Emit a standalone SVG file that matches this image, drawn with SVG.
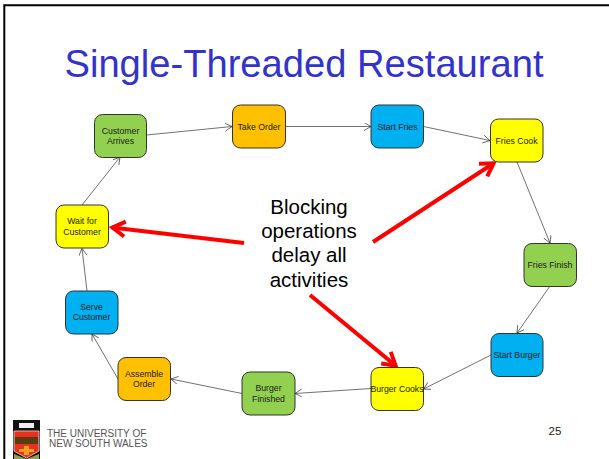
<svg xmlns="http://www.w3.org/2000/svg" width="609" height="459" viewBox="0 0 609 459">
<style>
text{font-family:"Liberation Sans",Arial,sans-serif;text-anchor:middle}
.n{stroke:#333;stroke-width:1}
.l{font-size:8.700px;fill:#1a1a1a}
.c{fill:none;stroke:#333;stroke-width:.7;marker-end:url(#a)}
.r{fill:none;stroke:#f00;stroke-width:4;marker-end:url(#ra)}
.b{font-size:20.500px;fill:#000}
.u{font-size:10px;fill:#555;text-anchor:start}
</style>
<defs>
<marker id="a" markerUnits="userSpaceOnUse" markerWidth="10" markerHeight="10" refX="7" refY="4" orient="auto"><path d="M0 0L7 4L0 8" fill="none" stroke="#333" stroke-width=".7"/></marker>
<marker id="ra" markerUnits="userSpaceOnUse" markerWidth="24" markerHeight="24" refX="16" refY="10" orient="auto"><path d="M3 2.500L15.500 10L3 17.500" fill="none" stroke="#f00" stroke-width="4"/></marker>
</defs>
<rect width="609" height="459" fill="#fff"/>
<path d="M4.300 459V5.300H609" fill="none" stroke="#000" stroke-width="2"/>
<text x="304" y="77" font-size="39" fill="#3333cc" textLength="479" lengthAdjust="spacingAndGlyphs">Single-Threaded Restaurant</text>
<g id="connectors">
<path class="c" d="M146.500 135L232 126.500"/>
<path class="c" d="M285.500 126.500H371"/>
<path class="c" d="M423.500 126.500L490 140.500"/>
<path class="c" d="M517 162L550 243"/>
<path class="c" d="M550 286L517 333"/>
<path class="c" d="M491 355L423.500 389"/>
<path class="c" d="M371 388.500L295 393.500"/>
<path class="c" d="M242 393.500L171 379"/>
<path class="c" d="M118 379L92 334"/>
<path class="c" d="M87 291L82 248.500"/>
<path class="c" d="M82 205L120 157"/>
<path class="r" d="M244 243L112 227.500"/>
<path class="r" d="M373 242L494 163"/>
<path class="r" d="M310 295L396 366"/>
</g>
<g id="customer-arrives"><rect class="n" x="94.500" y="114.500" width="52" height="43" rx="8" fill="#92d050"/><text class="l" x="120.500" y="134">Customer</text><text class="l" x="120.500" y="144">Arrives</text></g>
<g id="take-order"><rect class="n" x="232.500" y="105" width="53" height="43" rx="8" fill="#ffc000"/><text class="l" x="259" y="129.500">Take Order</text></g>
<g id="start-fries"><rect class="n" x="371" y="105" width="52.500" height="43" rx="8" fill="#00b0f0"/><text class="l" x="397.500" y="129.500">Start Fries</text></g>
<g id="fries-cook"><rect class="n" x="490.500" y="119" width="52.500" height="43" rx="8" fill="#ff0"/><text class="l" x="516.500" y="144">Fries Cook</text></g>
<g id="fries-finish"><rect class="n" x="524" y="243.500" width="52.500" height="43" rx="8" fill="#92d050"/><text class="l" x="550" y="268">Fries Finish</text></g>
<g id="start-burger"><rect class="n" x="491" y="333.500" width="52" height="43" rx="8" fill="#00b0f0"/><text class="l" x="517" y="358">Start Burger</text></g>
<g id="burger-cooks"><rect class="n" x="371" y="367.500" width="52.500" height="43" rx="8" fill="#ff0"/><text class="l" x="397" y="392">Burger Cooks</text></g>
<g id="burger-finished"><rect class="n" x="242" y="372" width="53" height="43" rx="8" fill="#92d050"/><text class="l" x="268.500" y="391">Burger</text><text class="l" x="268.500" y="402">Finished</text></g>
<g id="assemble-order"><rect class="n" x="118" y="357.500" width="52.500" height="43" rx="8" fill="#ffc000"/><text class="l" x="144" y="377">Assemble</text><text class="l" x="144" y="387">Order</text></g>
<g id="serve-customer"><rect class="n" x="65.500" y="291" width="52.500" height="43" rx="8" fill="#00b0f0"/><text class="l" x="91.500" y="310">Serve</text><text class="l" x="91.500" y="320">Customer</text></g>
<g id="wait-for-customer"><rect class="n" x="56" y="205" width="52.500" height="43" rx="8" fill="#ff0"/><text class="l" x="82" y="224">Wait for</text><text class="l" x="82" y="235">Customer</text></g>
<g id="caption"><text class="b" x="309" y="214">Blocking</text><text class="b" x="309" y="238">operations</text><text class="b" x="309" y="262">delay all</text><text class="b" x="309" y="287">activities</text></g>
<text x="555" y="435" font-size="11.500" fill="#222">25</text>
<g id="logo">
<rect x="13" y="420" width="27" height="39" fill="#111"/>
<rect x="19" y="423" width="15" height="5" fill="#eee"/>
<path d="M14 431H39V451L26.500 458L14 451Z" fill="#e8321e" stroke="#ddd" stroke-width=".8"/>
<path d="M15 437H38V444H15Z" fill="#5a3c10"/>
<path d="M24 446H29V455H24ZM19 449H34V452H19Z" fill="#f0a020"/>
<path d="M14 454L26.500 459H14ZM39 454L26.500 459H39Z" fill="#9a9a50"/>
<text class="u" x="47" y="437">THE UNIVERSITY OF</text>
<text class="u" x="49" y="447">NEW SOUTH WALES</text>
</g>
</svg>
